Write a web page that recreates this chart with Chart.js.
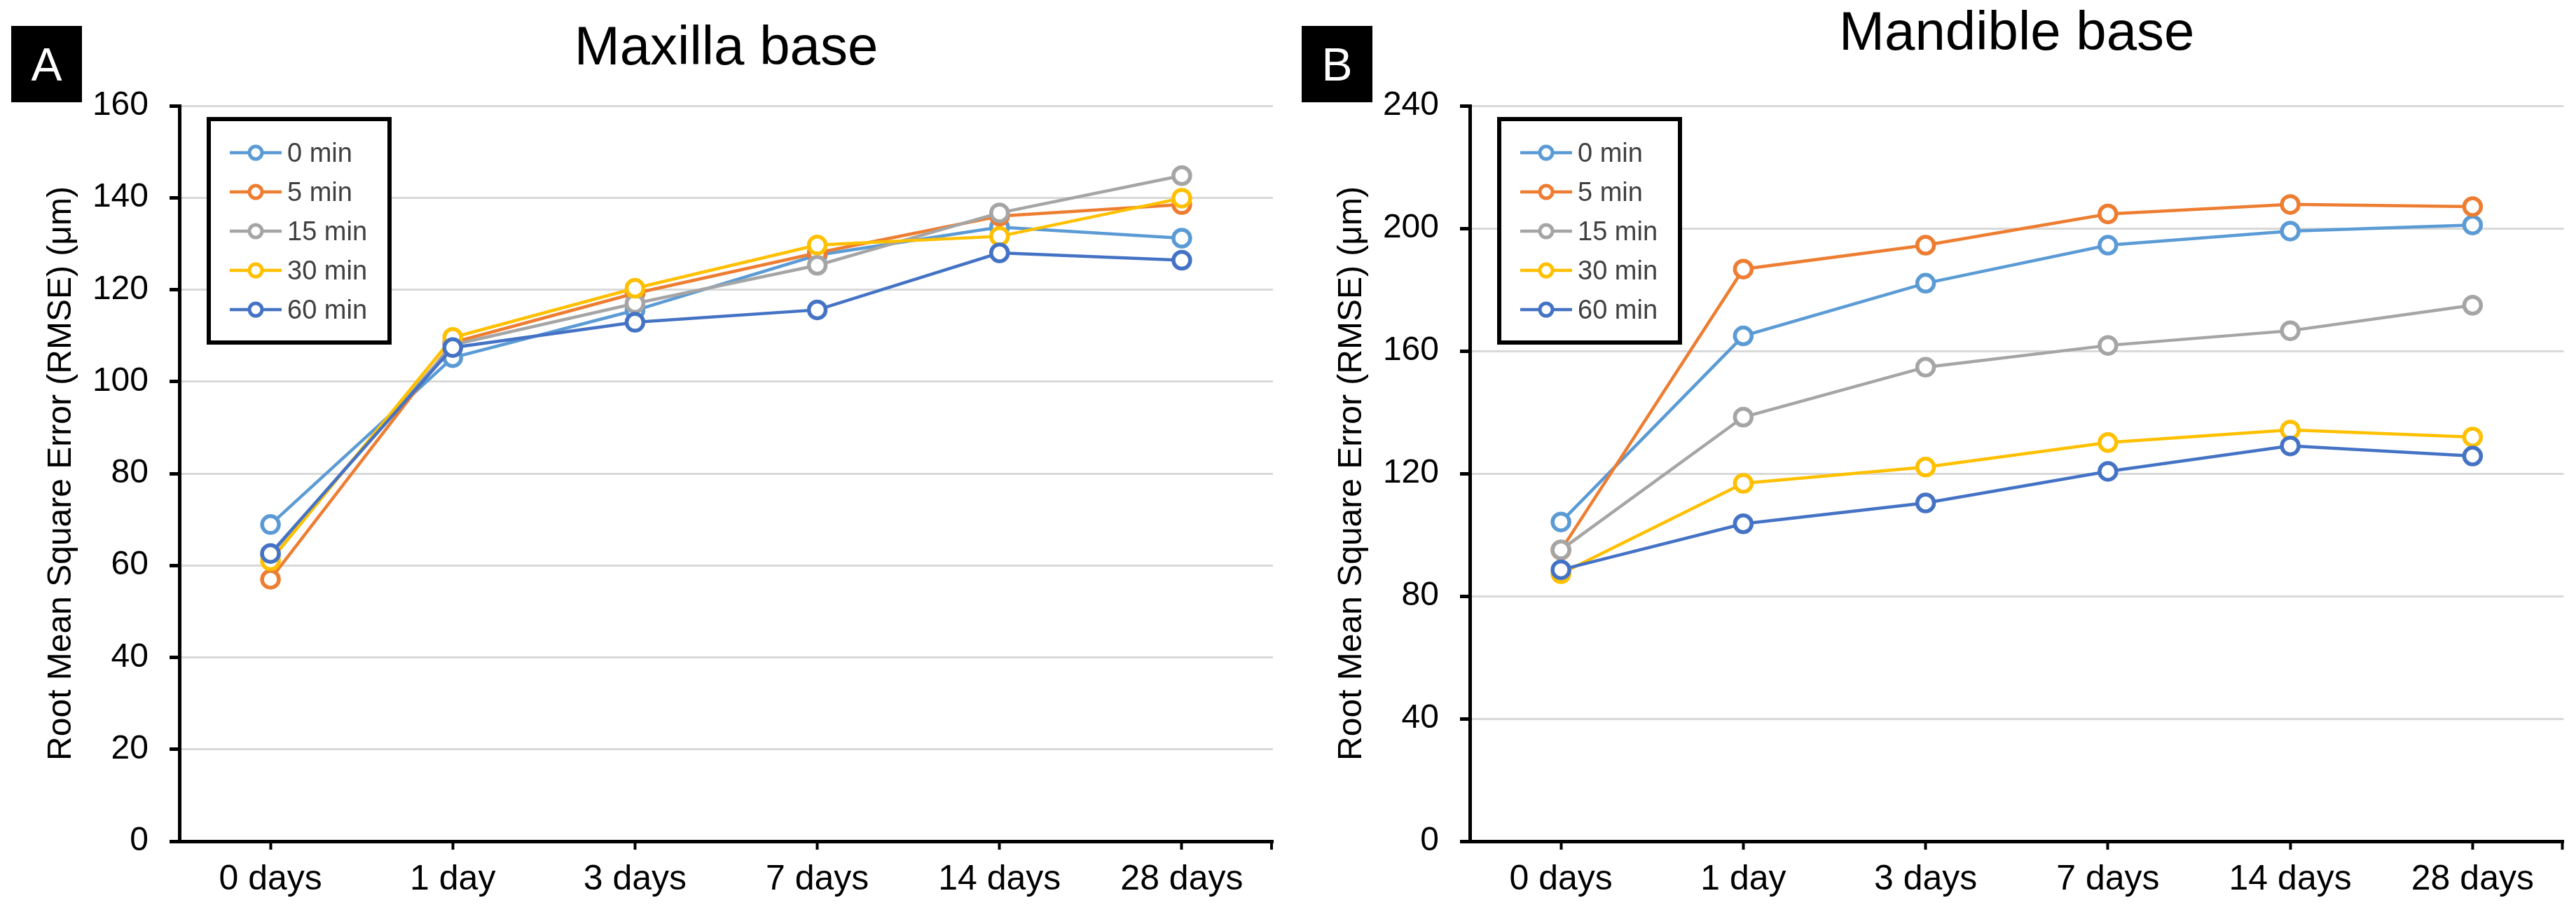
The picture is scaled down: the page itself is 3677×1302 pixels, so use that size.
<!DOCTYPE html>
<html>
<head>
<meta charset="utf-8">
<script src="https://cdn.jsdelivr.net/npm/chart.js@4.4.1/dist/chart.umd.min.js"></script>
<style>
html,body{margin:0;padding:0;background:#fff;width:3677px;height:1302px;overflow:hidden;}
canvas{position:absolute;top:0;}
.tag{position:absolute;top:37px;width:101px;height:109px;background:#000;color:#fff;
  font:66px "Liberation Sans",Arial,sans-serif;display:flex;align-items:center;justify-content:center;z-index:5;}
</style>
</head>
<body>
<canvas id="cA" width="1842" height="1302" style="left:0px"></canvas>
<canvas id="cB" width="1835" height="1302" style="left:1842px"></canvas>
<div class="tag" style="left:16px">A</div>
<div class="tag" style="left:1858px">B</div>
<script>
// ---- data ----
const categories = ['0 days', '1 day', '3 days', '7 days', '14 days', '28 days'];
const seriesNames = ['0 min', '5 min', '15 min', '30 min', '60 min'];

// Maxilla base (panel A)
const maxilla0min  = [68.9, 105.2, 115.5, 127.5, 133.6, 131.2];
const maxilla5min  = [57.0, 108.5, 119.2, 128.0, 136.0, 138.5];
const maxilla15min = [62.3, 108.0, 117.0, 125.3, 136.7, 144.8];
const maxilla30min = [61.0, 109.6, 120.3, 129.7, 131.6, 139.9];
const maxilla60min = [62.6, 107.4, 112.9, 115.6, 128.0, 126.4];

// Mandible base (panel B)
const mandible0min  = [104.2, 164.9, 182.1, 194.5, 199.1, 201.1];
const mandible5min  = [95.0, 186.7, 194.5, 204.7, 207.8, 207.1];
const mandible15min = [95.1, 138.4, 154.7, 161.8, 166.6, 174.9];
const mandible30min = [87.3, 116.8, 122.1, 130.1, 134.2, 131.9];
const mandible60min = [88.6, 103.6, 110.4, 120.7, 129.0, 125.7];

const seriesColors = ['#5B9BD5', '#ED7D31', '#A5A5A5', '#FFC000', '#4472C4'];
const FONT = '"Liberation Sans", Arial, sans-serif';
const yTitle = 'Root Mean Square Error (RMSE) (μm)';

// ---- legend box + axis end tick ----
const decor = {
  id: 'decor',
  afterDatasetsDraw(chart) {
    const ctx = chart.ctx, ca = chart.chartArea;
    const bx = ca.left + 42, by = ca.top + 19, bw = 258, bh = 319;
    ctx.save();
    ctx.fillStyle = '#fff';
    ctx.fillRect(bx, by, bw, bh);
    ctx.lineWidth = 6;
    ctx.strokeStyle = '#000';
    ctx.strokeRect(bx, by, bw, bh);
    chart.data.datasets.forEach((ds, i) => {
      const y = by + 48 + i * 56;
      ctx.strokeStyle = ds.borderColor;
      ctx.lineWidth = 4.5;
      ctx.beginPath(); ctx.moveTo(bx + 30, y); ctx.lineTo(bx + 104, y); ctx.stroke();
      ctx.beginPath(); ctx.arc(bx + 67, y, 9, 0, Math.PI * 2);
      ctx.fillStyle = '#fff'; ctx.fill(); ctx.lineWidth = 5; ctx.stroke();
      ctx.fillStyle = '#404040';
      ctx.font = '38px ' + FONT;
      ctx.textBaseline = 'alphabetic';
      ctx.textAlign = 'left';
      ctx.fillText(ds.label, bx + 112, y + 13);
    });
    ctx.restore();
  },
  afterDraw(chart) {
    const ctx = chart.ctx, ca = chart.chartArea;
    ctx.save();
    ctx.strokeStyle = '#000'; ctx.lineWidth = 4;
    ctx.beginPath(); ctx.moveTo(ca.right - 2, ca.bottom); ctx.lineTo(ca.right - 2, ca.bottom + 12); ctx.stroke();
    ctx.restore();
  }
};

function makeChart(id, title, titlePadTop, padRight, yMax, yStep, series) {
  return new Chart(document.getElementById(id), {
    type: 'line',
    data: {
      labels: categories,
      datasets: series.map((d, i) => ({
        label: seriesNames[i],
        data: d,
        borderColor: seriesColors[i],
        backgroundColor: '#fff',
        pointBackgroundColor: '#fff',
        pointBorderColor: seriesColors[i],
        pointRadius: 12,
        pointHoverRadius: 12,
        pointBorderWidth: 5.5,
        borderWidth: 4.5,
        tension: 0,
        order: series.length - i,
        clip: false
      }))
    },
    options: {
      responsive: false,
      animation: false,
      layout: { padding: { left: 59, right: padRight, top: 0, bottom: 0 } },
      plugins: {
        legend: { display: false },
        tooltip: { enabled: false },
        title: {
          display: true, text: title, fullSize: false, color: '#000',
          font: { family: FONT, size: 78, weight: 'normal', lineHeight: 1.2 },
          padding: { top: titlePadTop, bottom: 151 - titlePadTop - 93.6 }
        }
      },
      scales: {
        x: {
          type: 'category',
          offset: true,
          grid: { display: true, drawOnChartArea: false, drawTicks: true, offset: false,
                  tickLength: 12, tickWidth: 4, tickColor: '#000' },
          border: { display: true, color: '#000', width: 5 },
          ticks: { color: '#000', font: { family: FONT, size: 50 }, padding: 13, maxRotation: 0, autoSkip: false },
          afterFit(s) { s.height = 101; }
        },
        y: {
          min: 0, max: yMax,
          ticks: { stepSize: yStep, color: '#000', font: { family: FONT, size: 48 }, padding: 30 },
          grid: { color: '#D9D9D9', lineWidth: 3, tickColor: '#000', tickWidth: 5, tickLength: 14 },
          border: { color: '#000', width: 5 },
          title: { display: true, text: yTitle, color: '#000', font: { family: FONT, size: 48 }, padding: 0 },
          afterFit(s) { s.width = 197; }
        }
      }
    },
    plugins: [decor]
  });
}

makeChart('cA', 'Maxilla base', 24, 25, 160, 20,
  [maxilla0min, maxilla5min, maxilla15min, maxilla30min, maxilla60min]);
makeChart('cB', 'Mandible base', 3, 15, 240, 40,
  [mandible0min, mandible5min, mandible15min, mandible30min, mandible60min]);
</script>
</body>
</html>
